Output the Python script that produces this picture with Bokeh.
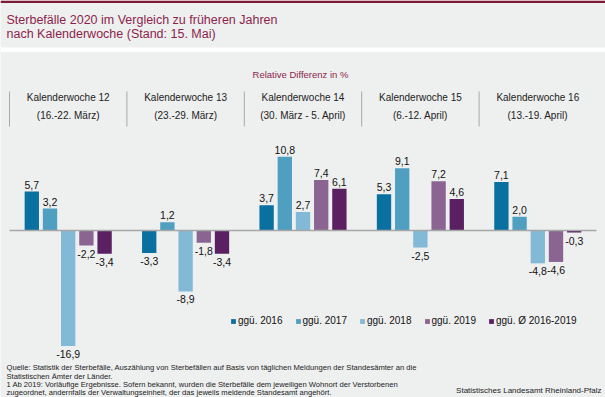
from bokeh.plotting import figure
from bokeh.models import Range1d, ColumnDataSource, Legend, LegendItem
from bokeh.core.properties import value
from bokeh.embed import file_html
from bokeh.resources import INLINE

# ---- data ----
weeks = ["Kalenderwoche 12", "Kalenderwoche 13", "Kalenderwoche 14", "Kalenderwoche 15", "Kalenderwoche 16"]
week_dates = ["(16.-22. März)", "(23.-29. März)", "(30. März - 5. April)", "(6.-12. April)", "(13.-19. April)"]
series_names = ["ggü. 2016", "ggü. 2017", "ggü. 2018", "ggü. 2019", "ggü. Ø 2016-2019"]
vs_2016 = [5.7, -3.3, 3.7, 5.3, 7.1]
vs_2017 = [3.2, 1.2, 10.8, 9.1, 2.0]
vs_2018 = [-16.9, -8.9, 2.7, -2.5, -4.8]
vs_2019 = [-2.2, -1.8, 7.4, 7.2, -4.6]
vs_avg = [-3.4, -3.4, 6.1, 4.6, -0.3]
series_values = [vs_2016, vs_2017, vs_2018, vs_2019, vs_avg]
colors = ["#0A70A0", "#4F9FC1", "#82B9D6", "#8A6591", "#5A2062"]

# ---- layout (pixel helpers, figure-local) ----
W, H = 605, 397
XS = 587 / 5.0          # px per category
ZERO_PY = 230
K = 6.84                # px per percent
x0 = -9 / XS
x1 = x0 + W / XS
y1 = ZERO_PY / K
y0 = y1 - H / K

def X(px):
    return (px - 9) / XS

def Y(py):
    return (ZERO_PY - py) / K

BG = "#EEEFEF"
TITLE_C = "#8C1F4C"
FONT = value("Liberation Sans")

p = figure(width=W, height=H, x_range=Range1d(x0, x1), y_range=Range1d(y0, y1),
           output_backend="svg", toolbar_location=None, min_border=0,
           background_fill_color=BG, border_fill_color=BG, outline_line_color=None)
p.axis.visible = False
p.grid.visible = False

# top bar & white separator strip
p.quad(left=[x0], right=[x1], top=[Y(0)], bottom=[Y(2.5)], color="#7E1A36", line_color=None)
p.quad(left=[x0], right=[x1], top=[Y(47)], bottom=[Y(51.5)], color="#FFFFFF", line_color=None)

# title
p.text(x=[X(6)], y=[Y(19)], text=["Sterbefälle 2020 im Vergleich zu früheren Jahren"],
       text_font=FONT, text_font_size="12.5px", text_color=TITLE_C, text_baseline="middle")
p.text(x=[X(6)], y=[Y(33)], text=["nach Kalenderwoche (Stand: 15. Mai)"],
       text_font=FONT, text_font_size="12.5px", text_color=TITLE_C, text_baseline="middle")
p.text(x=[X(300)], y=[Y(74)], text=["Relative Differenz in %"], text_font=FONT,
       text_font_size="9.5px", text_color=TITLE_C, text_align="center", text_baseline="middle")

# week headers
centers = [i + 0.5 for i in range(len(weeks))]
p.text(x=centers, y=[Y(97)] * len(weeks), text=weeks, text_font=FONT, text_font_size="10px",
       text_color="#222222", text_align="center", text_baseline="middle")
p.text(x=centers, y=[Y(115)] * len(weeks), text=week_dates, text_font=FONT, text_font_size="10px",
       text_color="#222222", text_align="center", text_baseline="middle")
p.segment(x0=list(range(len(weeks))), x1=list(range(len(weeks))),
          y0=[Y(91)] * len(weeks), y1=[Y(126)] * len(weeks), line_color="#A8A8A8", line_width=1)

# bars
slot = 0.155
bw = 0.122
renderers = []
for j, (vals, col) in enumerate(zip(series_values, colors)):
    xs = [c + (j - 2) * slot for c in centers]
    src = ColumnDataSource(dict(x=xs, top=vals))
    r = p.vbar(x="x", top="top", bottom=0, width=bw, source=src, color=col, line_color=None)
    renderers.append(r)
    pos = ColumnDataSource(dict(x=[a for a, v in zip(xs, vals) if v >= 0], y=[v for v in vals if v >= 0],
                                lab=[f"{v:.1f}".replace(".", ",") for v in vals if v >= 0]))
    neg = ColumnDataSource(dict(x=[a for a, v in zip(xs, vals) if v < 0], y=[v for v in vals if v < 0],
                                lab=[f"{v:.1f}".replace(".", ",") for v in vals if v < 0]))
    p.text(x="x", y="y", text="lab", source=pos, text_font=FONT, text_font_size="10.5px",
           text_color="#111111", text_align="center", text_baseline="bottom", y_offset=-3)
    p.text(x="x", y="y", text="lab", source=neg, text_font=FONT, text_font_size="10.5px",
           text_color="#111111", text_align="center", text_baseline="top", y_offset=4)

# zero line
p.line(x=[0, 5], y=[0, 0], line_color="#A6A6A6", line_width=1.5)

# legend
legend = Legend(items=[LegendItem(label=n, renderers=[r]) for n, r in zip(series_names, renderers)],
                orientation="horizontal", location=(230, 71), glyph_width=6, glyph_height=6,
                label_standoff=2, spacing=12, padding=0, margin=0, label_height=10,
                label_text_font="Liberation Sans", label_text_font_size="10px",
                label_text_color="#111111", background_fill_alpha=0, border_line_color=None)
p.add_layout(legend, "center")

# footer
foot = ["Quelle: Statistik der Sterbefälle, Auszählung von Sterbefällen auf Basis von täglichen Meldungen der Standesämter an die",
        "Statistischen Ämter der Länder.",
        "1 Ab 2019: Vorläufige Ergebnisse. Sofern bekannt, wurden die Sterbefälle dem jeweiligen Wohnort der Verstorbenen",
        "zugeordnet, andernfalls der Verwaltungseinheit, der das jeweils meldende Standesamt angehört."]
p.text(x=[X(6)] * 4, y=[Y(367), Y(375.5), Y(384), Y(392)], text=foot, text_font=FONT,
       text_font_size="7.6px", text_color="#222222", text_baseline="middle")
p.text(x=[X(601)], y=[Y(390)], text=["Statistisches Landesamt Rheinland-Pfalz"], text_font=FONT,
       text_font_size="8px", text_color="#222222", text_align="right", text_baseline="middle")

open("out.html", "w").write(file_html(p, INLINE))
